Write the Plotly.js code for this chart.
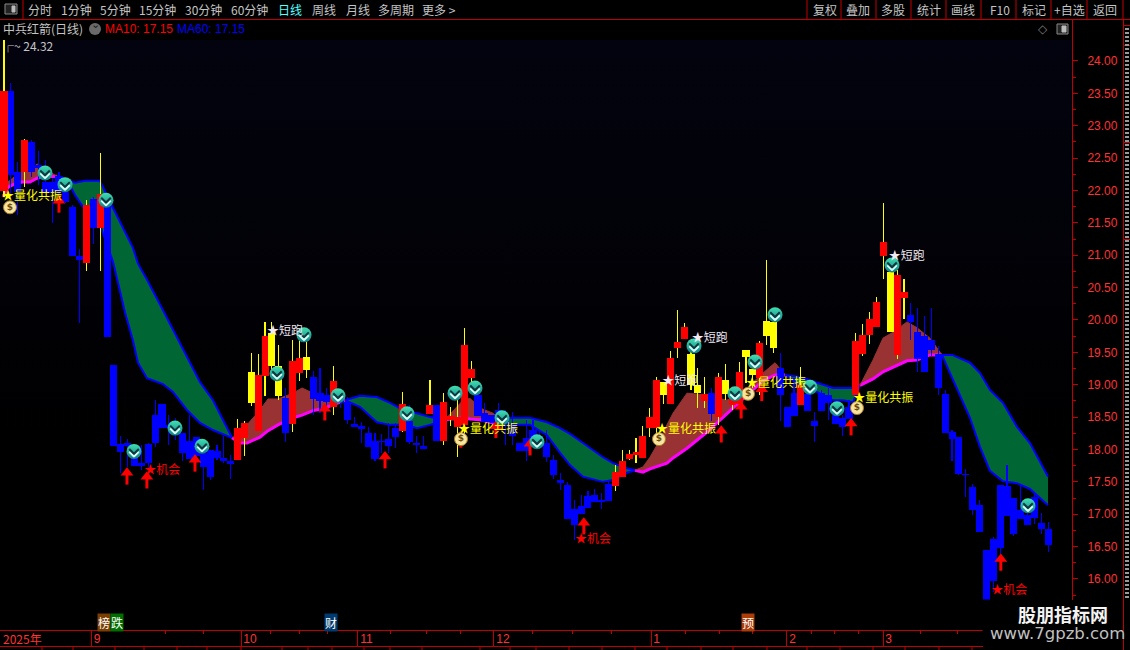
<!DOCTYPE html>
<html><head><meta charset="utf-8">
<script src="https://cdn.plot.ly/plotly-3.0.1.min.js"></script>
<style>
html,body{margin:0;padding:0;background:#000;width:1130px;height:650px;overflow:hidden}
#bg{position:absolute;left:0;top:40px;width:1072px;height:420px;background:linear-gradient(to bottom,#03030f,#000)}
#chart{position:absolute;left:0;top:0;width:1130px;height:650px}
</style></head><body><div id="bg"></div><div id="chart"></div>
<script>
const FONT='"Noto Sans CJK SC","Liberation Sans",sans-serif';
const AXIS_RED='#c00000', TEXT_RED='#ff3232', GRAY='#c4c4c4';

// candle data, one entry per trading day
const kinds=('RBBRBBBBBBBBRBRB'+'BBBBBBBBBBBBBBBBBB'+'RRYRRYYBRRYBBBRB'+'BBBBBBBB'+'RBBBRBRRRRR'+'BBBBBBBBBBBBBBBBBBBB'+'RRRRRRR'+'YRRRYYRBRYRRYYRYY'+'BBBRBBBBBBB'+'RRRRR'+'YRR'+'BBBBBBBBBBBBBBBBBBBBB').split('');
const bodyHigh=[23.54,23.54,22.29,22.78,22.75,22.39,22.13,22.13,22.22,21.97,21.74,20.99,21.78,21.87,21.95,21.78,19.30,18.09,18.10,17.88,17.79,18.09,18.53,18.70,18.38,18.33,18.25,18.13,18.19,17.95,17.99,17.97,17.87,17.82,18.33,18.41,19.20,19.15,19.75,19.80,19.29,18.79,19.37,19.41,19.43,19.12,18.87,18.84,19.06,18.80,18.73,18.39,18.36,18.25,18.13,18.13,18.16,18.33,18.70,18.44,18.10,18.05,18.69,18.69,18.73,18.52,18.50,19.61,19.24,18.84,18.56,18.53,18.61,18.49,18.38,18.10,18.18,18.30,18.21,18.10,17.84,17.53,17.45,17.08,17.13,17.28,17.30,17.22,17.47,17.65,17.82,17.93,17.96,18.21,18.50,19.07,19.04,19.41,19.66,19.89,19.47,18.99,18.86,18.87,19.12,19.07,18.84,19.20,19.54,19.24,19.64,19.98,19.97,19.26,18.66,18.87,18.99,18.86,18.44,18.87,18.84,18.53,18.49,18.66,19.68,19.77,20.02,20.28,21.20,20.74,20.69,20.43,20.08,19.81,19.75,19.69,19.47,18.86,18.27,18.19,17.62,17.42,17.14,16.45,16.62,17.45,17.44,17.25,17.07,16.99,17.27,16.86,16.77];
const bodyLow=[21.99,22.24,21.98,22.29,22.29,22.35,21.96,21.96,21.97,21.82,20.99,20.93,20.88,21.42,21.42,19.74,18.05,17.96,18.05,17.75,17.75,17.79,18.10,18.33,18.33,18.27,17.95,17.85,17.90,17.73,17.58,17.87,17.82,17.79,17.84,18.18,18.72,18.29,19.13,19.29,18.83,18.25,18.39,19.18,19.23,18.78,18.75,18.73,18.66,18.72,18.46,18.35,18.32,18.04,17.85,18.12,18.05,18.19,18.29,18.12,18.07,18.01,18.55,18.13,18.13,18.46,18.35,18.38,19.10,18.52,18.42,18.41,18.49,18.38,18.21,17.98,17.98,18.12,18.10,17.88,17.61,17.48,16.93,16.83,17.00,17.10,17.19,17.20,17.20,17.44,17.58,17.85,17.93,17.87,18.33,18.33,18.84,18.70,19.57,19.71,18.99,18.87,18.75,18.55,18.50,18.86,18.69,18.70,19.43,19.15,19.10,19.75,19.57,18.84,18.35,18.52,18.69,18.60,18.36,18.60,18.72,18.39,18.35,18.47,18.84,19.48,19.77,19.89,20.99,19.81,19.46,20.34,19.97,19.40,19.20,19.54,18.95,18.25,18.16,17.62,17.61,17.07,16.73,15.52,15.97,16.48,16.97,16.69,16.93,16.83,16.94,16.77,16.53];
const highs=[24.32,23.66,22.44,22.80,22.78,22.61,22.47,22.19,22.28,22.05,21.78,21.10,21.85,21.90,22.58,21.93,19.30,18.21,18.16,18.07,18.07,18.10,18.76,18.70,18.53,18.49,18.25,18.53,18.19,18.15,17.99,18.07,18.21,17.92,18.47,18.44,19.49,19.47,19.97,19.97,19.61,18.95,19.69,19.69,19.72,19.21,19.26,18.95,19.29,18.84,18.81,18.50,18.42,18.35,18.25,18.24,18.41,18.41,18.89,18.69,18.21,18.21,19.07,18.69,18.87,18.66,18.76,19.88,19.37,18.99,18.72,18.53,18.72,18.61,18.58,18.10,18.46,18.46,18.30,18.30,17.92,17.64,17.50,17.22,17.29,17.36,17.39,17.33,17.51,17.76,17.99,17.99,18.18,18.36,18.64,19.12,19.04,19.52,20.15,19.95,19.69,19.26,19.12,18.95,19.18,19.32,18.92,19.35,19.54,19.35,19.68,20.93,20.15,19.49,18.66,19.10,19.27,18.99,18.58,18.92,18.95,18.61,18.53,18.76,19.80,19.94,20.12,20.36,21.81,20.90,20.77,20.63,20.26,20.19,20.06,20.19,19.60,18.92,18.30,18.19,17.70,17.47,17.22,16.45,16.65,17.45,17.76,17.25,17.45,17.04,17.31,17.02,16.88];
const lows=[21.90,21.93,21.62,22.05,22.21,22.09,21.93,21.50,21.90,21.80,20.99,19.95,20.76,21.17,20.76,19.74,18.05,17.64,17.73,17.75,17.68,17.65,18.04,18.33,18.07,18.15,17.82,17.85,17.81,17.37,17.53,17.84,17.79,17.54,17.84,17.90,18.67,18.29,18.83,19.23,18.76,18.11,18.27,19.06,19.10,18.53,18.56,18.61,18.53,18.64,18.39,18.35,18.10,18.04,17.82,17.95,17.95,18.02,18.27,18.09,17.95,18.01,18.55,18.13,18.07,18.36,17.88,18.22,19.03,18.52,18.42,18.41,18.49,18.07,18.07,17.98,17.82,18.07,18.07,17.81,17.54,17.37,16.93,16.60,17.00,17.10,17.19,17.08,17.20,17.36,17.58,17.84,17.79,17.87,18.19,18.15,18.70,18.70,19.41,19.71,18.92,18.64,18.64,18.44,18.38,18.76,18.61,18.70,19.03,18.95,18.84,19.61,19.49,18.44,18.35,18.52,18.69,18.60,18.11,18.60,18.46,18.39,18.21,18.47,18.84,19.44,19.63,19.89,20.63,19.81,19.40,20.02,19.69,19.20,19.20,19.44,18.84,18.25,17.82,17.61,17.27,16.99,16.73,15.52,15.80,16.39,16.97,16.66,16.93,16.83,16.85,16.69,16.42];

// cloud bands: day position, upper edge, lower edge
const brown1X=[-0.15,0.58,1.6,2.62,3.78,4.8,5.68,6.69,7.71];
const brown1Top=[21.90,22.13,22.22,22.29,22.29,22.41,22.35,22.29,22.22];
const brown1Bot=[21.90,22.05,22.10,22.13,22.13,22.19,22.21,22.22,22.22];
const green1X=[7.71,9.32,10.34,11.79,13.97,15.87,17.61,18.78,19.5,20.82,23.14,24.6,26.64,28.53,30.42,33.19];
const green1Top=[22.22,22.16,22.12,22.15,22.15,21.73,21.36,21.11,20.87,20.62,20.15,19.85,19.43,19.04,18.76,18.18];
const green1Bot=[22.22,22.13,21.93,21.70,21.47,20.90,20.12,19.68,19.34,19.10,19.01,18.89,18.61,18.41,18.30,18.18];
const brown2X=[33.19,34.35,35.37,37.26,38.43,39.88,42.07,43.38,44.98,46.43,47.89,49.64];
const brown2Top=[18.18,18.25,18.38,18.61,18.78,18.78,18.87,18.95,18.87,18.84,18.81,18.76];
const brown2Bot=[18.18,18.10,18.10,18.19,18.29,18.38,18.49,18.53,18.60,18.63,18.69,18.76];
const green2X=[49.64,51.82,54.29,56.19,58.66,60.12,62.01,64.19];
const green2Top=[18.76,18.83,18.81,18.72,18.58,18.56,18.50,18.46];
const green2Bot=[18.76,18.66,18.42,18.38,18.38,18.33,18.38,18.46];
const brown3X=[64.19,66.81,67.83,69.29,71.18,72.2];
const brown3Top=[18.46,18.76,18.79,18.64,18.56,18.46];
const brown3Bot=[18.46,18.49,18.47,18.46,18.41,18.46];
const green3X=[72.2,74.09,76.57,79.04,80.93,82.39,84.28,87.19,88.65,90.68,91.85];
const green3Top=[18.46,18.49,18.49,18.42,18.33,18.24,18.10,17.88,17.79,17.71,17.68];
const green3Bot=[18.46,18.38,18.38,18.22,17.95,17.76,17.58,17.50,17.53,17.64,17.68];
const brown4X=[91.85,93.01,94.03,95.49,96.5,97.38,99.42,102.33,105.24,108.15,110.48,112.23,113.68];
const brown4Top=[17.68,17.73,17.88,18.15,18.38,18.56,18.87,18.84,18.76,18.95,19.18,19.34,19.15];
const brown4Bot=[17.68,17.65,17.70,17.75,17.79,17.87,18.02,18.27,18.56,18.84,19.06,19.15,19.15];
const green4X=[113.68,115.86,118.34,120.67,122.12,123.58,124.6];
const green4Top=[19.15,19.12,19.03,18.95,18.95,18.95,18.99];
const green4Bot=[19.15,18.99,18.89,18.76,18.76,18.73,18.99];
const brown5X=[124.6,126.49,127.95,129.4,131.44,132.9,134.78,136.53];
const brown5Top=[18.99,19.38,19.72,19.81,19.97,19.88,19.72,19.46];
const brown5Bot=[18.99,19.09,19.20,19.27,19.37,19.38,19.46,19.46];
const green5X=[136.53,138.01,140.61,142.07,143.52,145.41,147.45,149.34,151.97];
const green5Top=[19.46,19.46,19.34,19.18,18.92,18.72,18.35,18.10,17.58];
const green5Bot=[19.46,19.10,18.49,18.04,17.67,17.51,17.48,17.39,17.14];

// signal marks
const arrowX=[8.0,17.9,20.8,27.8,46.7,55.46,66.5,71.6,76.57,84.4,104.4,107.3,110.3,123.3,145.1];
const arrowTip=[21.90,17.70,17.64,17.90,18.69,17.95,18.27,18.42,18.15,16.93,18.35,18.72,18.99,18.46,16.37];
const iconX=[5.97,8.88,14.85,18.92,24.89,28.82,39.74,43.67,48.62,58.66,65.65,68.56,72.49,77.58,100.44,106.4,109.32,112.23,117.32,121.25,129.26,149.05];
const iconY=[22.27,22.09,21.85,17.97,18.33,18.05,19.17,19.77,18.83,18.55,18.87,18.95,18.49,18.12,19.60,18.86,19.35,20.08,18.96,18.63,20.85,17.13];
const bagX=[0.87,66.52,95.34,108.3,124.16];
const bagY=[21.74,18.16,18.16,18.86,18.64];
const resonanceX=[-0.29,66.08,94.9,108.0,123.6];
const resonanceY=[21.90,18.30,18.30,19.01,18.78];
const sprintX=[38.3,100.1,95.8,128.8];
const sprintY=[19.81,19.71,19.04,20.97];
const chanceX=[20.4,83.1,143.7];
const chanceY=[17.67,16.60,15.81];

// axes
const yTicks=[16,16.5,17,17.5,18,18.5,19,19.5,20,20.5,21,21.5,22,22.5,23,23.5,24];
const yMinor=[15.75,16.25,16.75,17.25,17.75,18.25,18.75,19.25,19.75,20.25,20.75,21.25,21.75,22.25,22.75,23.25,23.75];
const monthTicks=[12.74,34.5,51.46,71.32,94.18,113.97,127.95];
const monthLabels=['9\u00a0\u00a0','10','11','12','1\u00a0\u00a0','2\u00a0\u00a0','3\u00a0\u00a0'];
const weekTicks=[23.58,29.11,38.72,42.94,47.16,56.33,61.43,66.38,77.0,82.82,88.5,99.13,104.22,109.02,117.47,120.96,124.45,133.47,138.86];

// toolbar
const toolLabels=['分时','1分钟','5分钟','15分钟','30分钟','60分钟','日线','周线','月线','多周期','更多 >','复权','叠加','多股','统计','画线','F10','标记','+自选','返回'];
const toolX=[28,61,100,139,185,231,278,312,346,378,422,813,846,881,917,951,990,1022,1054,1093];
const toolSeps=[23,807,841,876,911,946,981,1016,1051,1087,1123];
const bottomSeps=[42,73,115,144,177,207,241,282,308,332,364,390,422,480,510,536,569,602,635,667,701,733,767,807,840,873,905,939,972];

const px=x=>x/1072, py=y=>1-(y-40)/590;
const idx=kinds.map((_,i)=>i);

const traces=[];
function band(x,top,bot,kind){
  const green=kind==='green';
  traces.push({type:'scatter',mode:'lines',x:x,y:bot,xaxis:'x',yaxis:'y',hoverinfo:'skip',showlegend:false,
    line:{color:green?'#0000ff':'#ff00ff',width:green?2:3}});
  traces.push({type:'scatter',mode:'lines',x:x,y:top,xaxis:'x',yaxis:'y',hoverinfo:'skip',showlegend:false,
    fill:'tonexty',fillcolor:green?'#006633':'#993333',
    line:{color:green?'#0000ff':'#993333',width:green?2:1}});
}
band(brown1X,brown1Top,brown1Bot,'brown');
band(green1X,green1Top,green1Bot,'green');
band(brown2X,brown2Top,brown2Bot,'brown');
band(green2X,green2Top,green2Bot,'green');
band(brown3X,brown3Top,brown3Bot,'brown');
band(green3X,green3Top,green3Bot,'green');
band(brown4X,brown4Top,brown4Bot,'brown');
band(green4X,green4Top,green4Bot,'green');
band(brown5X,brown5Top,brown5Bot,'brown');
band(green5X,green5Top,green5Bot,'green');

const wickColor={R:'#ffff00',Y:'#ffff00',B:'#0000ff'};
const bodyColor={R:'#ff0000',Y:'#ffff00',B:'#0000ff'};
['B','R','Y'].forEach(k=>{
  const ii=idx.filter(i=>kinds[i]===k);
  traces.push({type:'bar',x:ii,y:ii.map(i=>highs[i]-lows[i]),base:ii.map(i=>lows[i]),width:0.02,
    xaxis:'x2',yaxis:'y2',marker:{color:wickColor[k],line:{width:0}},hoverinfo:'skip',showlegend:false});
});
['B','R','Y'].forEach(k=>{
  const ii=idx.filter(i=>kinds[i]===k);
  traces.push({type:'bar',x:ii,y:ii.map(i=>bodyHigh[i]-bodyLow[i]),base:ii.map(i=>bodyLow[i]),width:1.03,
    xaxis:'x2',yaxis:'y2',marker:{color:bodyColor[k],line:{width:0}},hoverinfo:'skip',showlegend:false});
});
// arrows: stem and head
traces.push({type:'scatter',mode:'markers',x:arrowX,y:arrowTip.map(v=>v-0.145),xaxis:'x2',yaxis:'y2',hoverinfo:'skip',showlegend:false,
  marker:{symbol:'line-ns',size:9,line:{color:'#ff0000',width:3}}});
traces.push({type:'scatter',mode:'markers',x:arrowX,y:arrowTip.map(v=>v-0.06),xaxis:'x2',yaxis:'y2',hoverinfo:'skip',showlegend:false,
  marker:{symbol:'triangle-up',size:11,color:'#ff0000',line:{width:0}}});
// money bags
traces.push({type:'scatter',mode:'markers+text',x:bagX,y:bagY,xaxis:'x2',yaxis:'y2',hoverinfo:'skip',showlegend:false,
  marker:{symbol:'circle',size:13,color:'#f6e4a0',line:{color:'#a87f20',width:1}},
  text:bagX.map(()=>'$'),textposition:'middle center',textfont:{family:'"DejaVu Sans"',size:9,color:'#6e4a08',weight:700}});
// teal sell icons with a chevron made from two diagonal strokes
traces.push({type:'scatter',mode:'markers',x:iconX,y:iconY,xaxis:'x2',yaxis:'y2',hoverinfo:'skip',showlegend:false,
  marker:{symbol:'circle',size:15,color:'#3fe0b0',gradient:{type:'vertical',color:'#127f88'},line:{width:0}}});
[['#d8fff4',-0.045],['#123540',0]].forEach(([c,dy])=>{
  [['line-nw',-0.33],['line-ne',0.33]].forEach(([sym,dx])=>{
    traces.push({type:'scatter',mode:'markers',x:iconX.map(v=>v+dx),y:iconY.map(v=>v+dy),xaxis:'x2',yaxis:'y2',hoverinfo:'skip',showlegend:false,
      marker:{symbol:sym,size:5,line:{color:c,width:2}}});
  });
});
function labels(x,y,text,color){
  traces.push({type:'scatter',mode:'text',x:x,y:y,xaxis:'x2',yaxis:'y2',hoverinfo:'skip',showlegend:false,
    text:x.map(()=>text),textposition:'middle right',textfont:{family:FONT,size:12,color:color}});
}
labels(resonanceX,resonanceY,'★量化共振','#ffff00');
labels(sprintX,sprintY,'★短跑','#f0e8f4');
labels(chanceX,chanceY,'★机会','#ff0000');
labels([-0.3],[24.2],'┌~ 24.32','#c4c4c4');

const annotations=[];
function note(x,y,text,color,opts){
  annotations.push(Object.assign({xref:'paper',yref:'paper',x:px(x-2),y:py(y),text:text,showarrow:false,xanchor:'left',yanchor:'middle',
    font:{family:FONT,size:12,color:color}},opts||{}));
}
toolLabels.forEach((t,i)=>note(toolX[i],10,t,t==='日线'?'#54ffff':GRAY));
note(3,29,'中兵红箭(日线)',GRAY);
note(105,29,'MA10: 17.15','#ff0000',{font:{family:'"Liberation Sans"',size:12,color:'#ff0000'}});
note(177,29,'MA60: 17.15','#0000ff',{font:{family:'"Liberation Sans"',size:12,color:'#0000ff'}});
note(95,29,'⌄','#222',{x:px(95),xanchor:'center',yanchor:'bottom',y:py(33),font:{family:'"DejaVu Sans"',size:11,color:'#1a1a1a'}});
note(1038,29,'◇','#777',{font:{family:'"DejaVu Sans"',size:12,color:'#777'}});
note(3,638,'2025年',TEXT_RED);
[['榜',104,'#7a3e00'],['跌',116.5,'#006f00'],['财',330.5,'#003a6e'],['预',747.5,'#aa3d08']].forEach(a=>{
  note(a[1],622.5,a[0],'#fff',{x:px(a[1]),xanchor:'center',bgcolor:a[2],borderpad:0});
});
note(1063,614,'股朋指标网','#fff',{x:px(1063),xanchor:'center',font:{family:FONT,size:18,color:'#f4f4f4',weight:700}});
note(1057,634,'www.7gpzb.com','#bbb',{x:px(1057),xanchor:'center',font:{family:'"DejaVu Sans"',size:16.5,color:'#c0c0c0'}});

const shapes=[];
function seg(x0,y0,x1,y1,color,width,dash){
  shapes.push({type:'line',xref:'paper',yref:'paper',layer:'above',x0:px(x0),y0:py(y0),x1:px(x1),y1:py(y1),
    line:{color:color||AXIS_RED,width:width||1,dash:dash||'solid'}});
}
function box(x0,y0,x1,y1,fill,line){
  shapes.push({type:'rect',xref:'paper',yref:'paper',layer:'above',x0:px(x0),y0:py(y0),x1:px(x1),y1:py(y1),
    fillcolor:fill,line:{color:line||fill,width:1}});
}
box(983,600,1132,652,'#000000');
seg(0,19.5,1130,19.5);
toolSeps.forEach(x=>seg(x,0,x,19));
seg(1072.5,19,1072.5,600);
seg(1123.5,19,1123.5,650);
seg(1123,25.5,1130,25.5); seg(1123,45.5,1130,45.5); seg(1123,142.5,1130,142.5); seg(1123,239.5,1130,239.5);
seg(1127,28,1127,600,'#9a9a9a',4,'2px,2px');
seg(0,646.5,983,646.5);
bottomSeps.forEach(x=>seg(x,646,x,650));
box(5,4,17,14,'#222222','#888888');
box(12,6,15,12,'#bbbbbb');
box(1057,24,1068,34,'#222222','#888888');
box(1062,26,1066,32,'#bbbbbb');
shapes.push({type:'circle',xref:'paper',yref:'paper',layer:'below',x0:px(89),y0:py(23),x1:px(101),y1:py(35),fillcolor:'#6a6a6a',line:{width:0}});

const xRange=[-0.582,155.459], yRange=[15.212,24.324];
const layout={
  width:1130,height:650,margin:{l:0,r:58,t:40,b:20,pad:0},
  paper_bgcolor:'rgba(0,0,0,0)',plot_bgcolor:'rgba(0,0,0,0)',
  barmode:'overlay',bargap:0,showlegend:false,hovermode:false,
  font:{family:FONT},
  xaxis:{range:xRange,fixedrange:true,showgrid:false,zeroline:false,showline:true,linecolor:AXIS_RED,linewidth:1,
    tickmode:'array',tickvals:monthTicks,ticktext:monthLabels,ticks:'outside',ticklen:16,tickwidth:1,tickcolor:AXIS_RED,
    tickangle:0,tickfont:{family:'"Liberation Sans"',size:12,color:TEXT_RED},ticklabelshift:9,ticklabelstandoff:-18,
    minor:{tickmode:'array',tickvals:weekTicks,ticks:'outside',ticklen:3,tickwidth:1,tickcolor:AXIS_RED,showgrid:false}},
  yaxis:{range:yRange,fixedrange:true,side:'right',showgrid:false,zeroline:false,showline:true,linecolor:AXIS_RED,linewidth:1,
    tickmode:'array',tickvals:yTicks,ticktext:yTicks.map(v=>v.toFixed(2)),ticks:'outside',ticklen:5,tickwidth:1,tickcolor:AXIS_RED,
    tickfont:{family:'"Liberation Sans"',size:12,color:TEXT_RED},ticklabelstandoff:7,
    minor:{tickmode:'array',tickvals:yMinor,ticks:'outside',ticklen:3,tickwidth:1,tickcolor:AXIS_RED,showgrid:false}},
  xaxis2:{range:xRange,overlaying:'x',anchor:'y2',visible:false,fixedrange:true},
  yaxis2:{range:yRange,overlaying:'y',anchor:'x2',side:'right',visible:false,fixedrange:true},
  annotations:annotations,shapes:shapes
};
Plotly.newPlot('chart',traces,layout,{displayModeBar:false,responsive:false});
</script></body></html>
